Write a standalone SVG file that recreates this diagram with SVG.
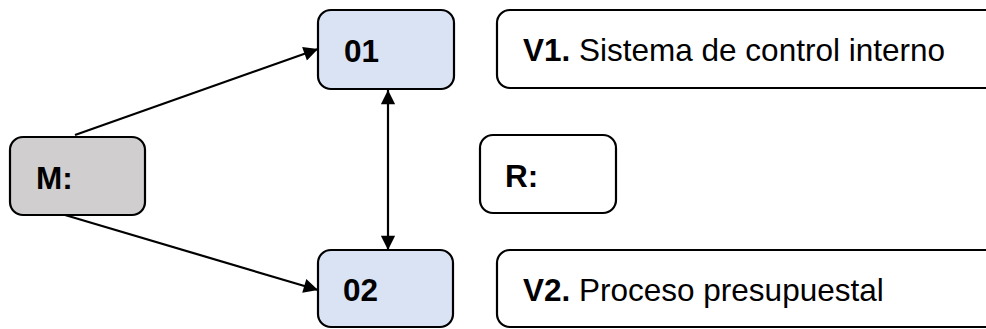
<svg xmlns="http://www.w3.org/2000/svg" width="986" height="329" viewBox="0 0 986 329">
<defs>
<marker id="arr" viewBox="0 0 10 10" refX="10" refY="5" markerWidth="7.5" markerHeight="6.5" markerUnits="strokeWidth" orient="auto-start-reverse">
<path d="M0,0 L10,5 L0,10 z" fill="#000"/>
</marker>
<style>
.box{stroke:#000;stroke-width:2.2}
.gray{fill:#d0cece}
.blue{fill:#dae3f3}
.white{fill:#fff}
.lbl{font-family:"Liberation Sans",Arial,sans-serif;font-weight:bold;font-size:31.5px;fill:#000}
.txt{font-family:"Liberation Sans",Arial,sans-serif;font-size:31.5px;fill:#000}
.b{font-weight:bold}
.conn{stroke:#000;stroke-width:2.2;fill:none}
</style>
</defs>
<rect width="986" height="329" fill="#fff"/>
<g id="connectors">
<line class="conn" x1="75" y1="135" x2="318" y2="49" marker-end="url(#arr)"/>
<line class="conn" x1="65" y1="215" x2="318" y2="290" marker-end="url(#arr)"/>
<line class="conn" x1="388" y1="90" x2="388" y2="250" marker-start="url(#arr)" marker-end="url(#arr)"/>
</g>
<g id="M">
<rect class="box gray" x="10" y="137" width="135" height="78" rx="13"/>
<text class="lbl" x="36" y="189">M:</text>
</g>
<g id="n01">
<rect class="box blue" x="318" y="10" width="136" height="79" rx="13"/>
<text class="lbl" x="344" y="62">01</text>
</g>
<g id="n02">
<rect class="box blue" x="318" y="250" width="135" height="77" rx="13"/>
<text class="lbl" x="343" y="301">02</text>
</g>
<g id="V1">
<rect class="box white" x="497" y="10" width="510" height="78" rx="13"/>
<text class="txt" x="523" y="61"><tspan class="b">V1.</tspan> Sistema de control interno</text>
</g>
<g id="R">
<rect class="box white" x="480" y="135" width="136" height="78" rx="13"/>
<text class="lbl" x="505" y="187">R:</text>
</g>
<g id="V2">
<rect class="box white" x="497" y="250" width="510" height="77" rx="13"/>
<text class="txt" x="523" y="301"><tspan class="b">V2.</tspan> Proceso presupuestal</text>
</g>
</svg>
